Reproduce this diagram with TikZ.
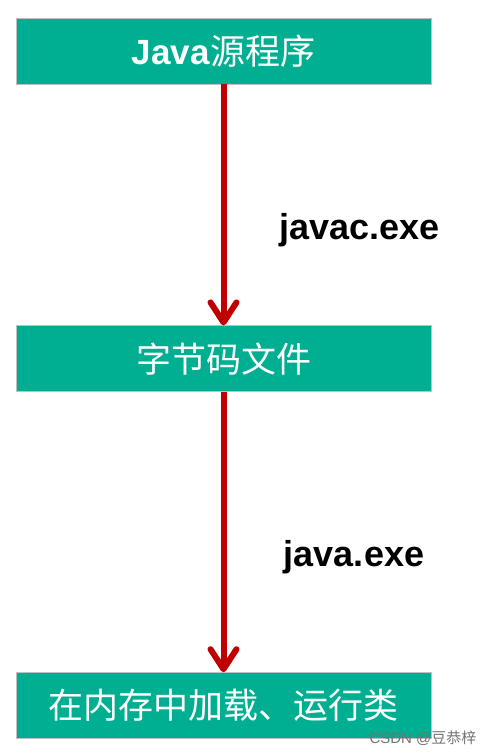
\documentclass[tikz,border=0pt]{standalone}
\usepackage{fontspec}
\setmainfont{Liberation Sans}
\newfontfamily\cjk{Noto Sans CJK SC}
\usetikzlibrary{arrows.meta,positioning}
\definecolor{boxgreen}{RGB}{0,175,145}
\definecolor{arrowred}{RGB}{192,0,0}

\begin{document}
\begin{tikzpicture}[x=1pt,y=-1pt,
stage/.style={draw=black!25,line width=0.8pt,fill=boxgreen,text=white,minimum width=415pt,minimum height=66pt,inner sep=0pt,font=\fontsize{35}{42}\selectfont},
flow/.style={draw=arrowred,line width=6pt,-{Straight Barb[length=20pt,width=26pt,round]}},
tool/.style={font=\fontsize{36}{43}\selectfont\bfseries}]

\useasboundingbox (0,0) rectangle (488,755);

\node[stage] (src) at (223.5,51) {\textbf{Java}{\cjk 源程序}};
\node[stage,below=241pt of src] (bytecode) {\cjk 字节码文件};
\node[stage,below=280pt of bytecode] (run) {\cjk 在内存中加载、运行类};

\draw[flow] (src) -- (bytecode);
\draw[flow] (bytecode) -- (run);

\node[tool] (javac) at (359.5,230) {javac.exe};
\node[tool] (java) at (354,557) {java.exe};

\node[text=black!55,font=\fontsize{15}{17}\selectfont] (mark) at (423,738) {CSDN @{\cjk 豆恭梓}};
\end{tikzpicture}
\end{document}
